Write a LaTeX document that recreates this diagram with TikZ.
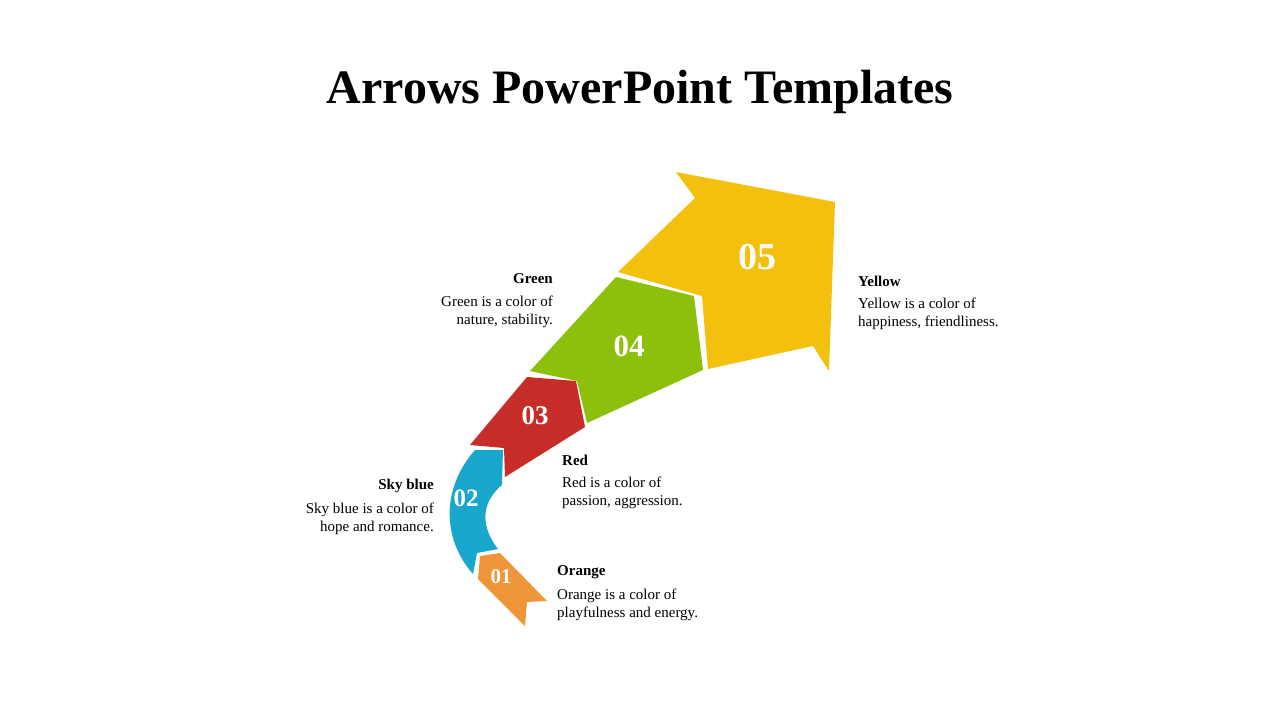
\documentclass[tikz,border=0pt]{standalone}
\usepackage{fontspec}
\setmainfont{Liberation Serif}
\usetikzlibrary{positioning}
\definecolor{cyellow}{HTML}{F4C00E}
\definecolor{cgreen}{HTML}{8DBF0D}
\definecolor{cred}{HTML}{C62C28}
\definecolor{cblue}{HTML}{18A7CB}
\definecolor{corange}{HTML}{F0963A}
\tikzset{
    num/.style = {white, font=\bfseries},
    head/.style = {font=\fontsize{15}{18}\selectfont\bfseries, inner sep=0pt},
    body/.style = {font=\fontsize{15}{18}\selectfont, inner sep=0pt, align=left},
}
\begin{document}
\begin{tikzpicture}[x=1pt, y=-1pt]

    \useasboundingbox (0,0) rectangle (1280,720);

    \node[font=\fontsize{48}{56}\selectfont\bfseries] (title) at (640,92) {Arrows PowerPoint Templates};

    % arrow pieces
    \fill[cyellow] (676,172) -- (835,202) -- (829,371) -- (813,346) -- (708,369)
        -- (702,296) -- (618,272) -- (695,198) -- cycle;
    \fill[cgreen] (616,277) -- (694,296) -- (703,370) -- (587,423) -- (577,381) -- (530,371) -- cycle;
    \fill[cred] (527,377) -- (576,381) -- (585,427) -- (505,477) -- (504,448) -- (470,445) -- cycle;
    \fill[cblue] (475,450) -- (503,450) -- (502,485) .. controls (478,505) and (483,530) .. (498,549)
        -- (477,553) -- (473,574) .. controls (443,540) and (440,490) .. cycle;
    \fill[corange] (480,556) -- (500,553) -- (547,601) -- (527,602) -- (525,626) -- (478,579) -- cycle;

    % numbers
    \node[num, font=\fontsize{38}{40}\selectfont\bfseries] (n5) at (757,257) {05};
    \node[num, font=\fontsize{31}{34}\selectfont\bfseries] (n4) at (629,346) {04};
    \node[num, font=\fontsize{27}{30}\selectfont\bfseries] (n3) at (535,416) {03};
    \node[num, font=\fontsize{25}{28}\selectfont\bfseries] (n2) at (466,498) {02};
    \node[num, font=\fontsize{21}{24}\selectfont\bfseries] (n1) at (501,577) {01};

    % labels
    \node[head, anchor=east] (ghead) at (553,279) {Green};
    \node[body, anchor=north east, align=right] (gbody) at (553,296) {Green is a color of\\nature, stability.};
    \node[head, anchor=west] (yhead) at (858,281) {Yellow};
    \node[body, anchor=north west] (ybody) at (858,298) {Yellow is a color of\\happiness, friendliness.};
    \node[head, anchor=west] (rhead) at (562,460) {Red};
    \node[body, anchor=north west] (rbody) at (562,477) {Red is a color of\\passion, aggression.};
    \node[head, anchor=east] (bhead) at (434,486) {Sky blue};
    \node[body, anchor=north east, align=right] (bbody) at (434,503) {Sky blue is a color of\\hope and romance.};
    \node[head, anchor=west] (ohead) at (557,572) {Orange};
    \node[body, anchor=north west] (obody) at (557,589) {Orange is a color of\\playfulness and energy.};

\end{tikzpicture}
\end{document}
